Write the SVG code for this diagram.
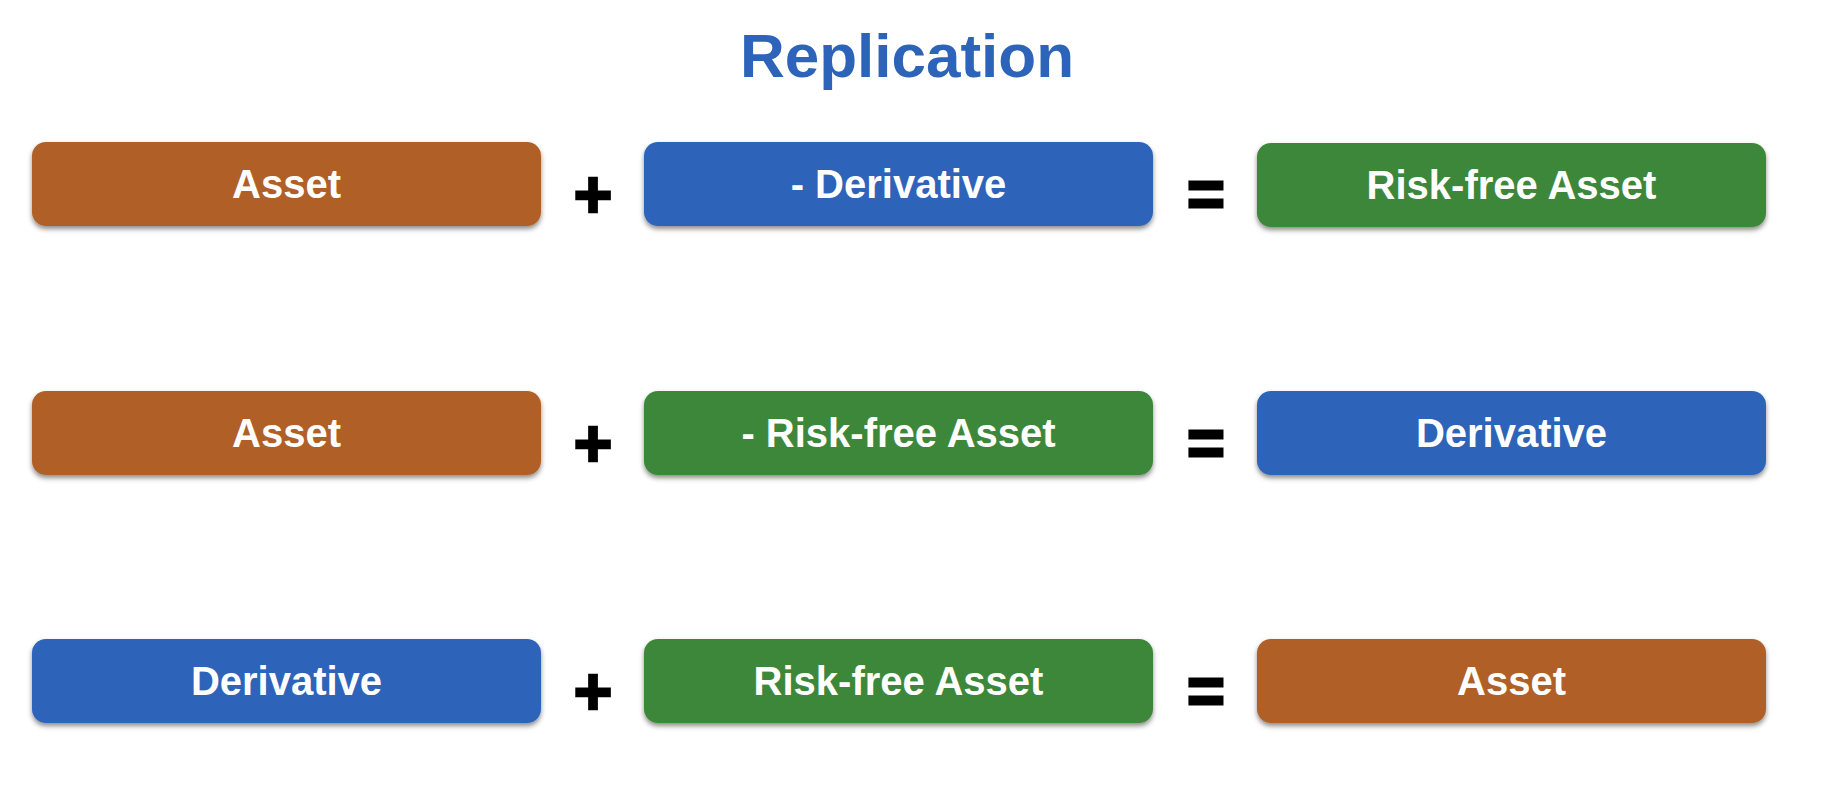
<svg xmlns="http://www.w3.org/2000/svg" width="1836" height="804" viewBox="0 0 1836 804">
<defs>
<filter id="sh" x="-5%" y="-20%" width="110%" height="150%">
<feDropShadow dx="0" dy="3" stdDeviation="2.5" flood-color="#000" flood-opacity="0.45"/>
</filter>
</defs>
<style>
.box{filter:url(#sh)}
.orange{fill:#B06027}
.blue{fill:#2D64BA}
.green{fill:#3D873A}
.lbl{font-family:"Liberation Sans",Arial,sans-serif;font-weight:bold;font-size:40px;fill:#fff;text-anchor:middle}
.plus{font-family:"Liberation Sans",Arial,sans-serif;font-weight:bold;font-size:66px;fill:#000;stroke:#000;stroke-width:2.5;text-anchor:middle}
.eq{font-family:"Liberation Sans",Arial,sans-serif;font-weight:bold;font-size:64px;fill:#000;stroke:#000;stroke-width:3;text-anchor:middle}
.title{font-family:"Liberation Sans",Arial,sans-serif;font-weight:bold;font-size:62px;fill:#2D64BA;text-anchor:middle}
</style>
<rect width="1836" height="804" fill="#fff"/>
<text class="title" x="907" y="77">Replication</text>
<g id="r1a"><rect class="box orange" x="32" y="142" width="509" height="84" rx="14"/><text class="lbl" x="286.5" y="198">Asset</text></g>
<g id="r1b"><rect class="box blue" x="644" y="142" width="509" height="84" rx="14"/><text class="lbl" x="898.5" y="198">- Derivative</text></g>
<g id="r1c"><rect class="box green" x="1257" y="143" width="509" height="84" rx="14"/><text class="lbl" x="1511.5" y="199">Risk-free Asset</text></g>
<g id="r2a"><rect class="box orange" x="32" y="391" width="509" height="84" rx="14"/><text class="lbl" x="286.5" y="447">Asset</text></g>
<g id="r2b"><rect class="box green" x="644" y="391" width="509" height="84" rx="14"/><text class="lbl" x="898.5" y="447">- Risk-free Asset</text></g>
<g id="r2c"><rect class="box blue" x="1257" y="391" width="509" height="84" rx="14"/><text class="lbl" x="1511.5" y="447">Derivative</text></g>
<g id="r3a"><rect class="box blue" x="32" y="639" width="509" height="84" rx="14"/><text class="lbl" x="286.5" y="695">Derivative</text></g>
<g id="r3b"><rect class="box green" x="644" y="639" width="509" height="84" rx="14"/><text class="lbl" x="898.5" y="695">Risk-free Asset</text></g>
<g id="r3c"><rect class="box orange" x="1257" y="639" width="509" height="84" rx="14"/><text class="lbl" x="1511.5" y="695">Asset</text></g>
<g id="connectors">
<text class="plus" x="593" y="217">+</text>
<text class="eq" x="1206" y="216">=</text>
<text class="plus" x="593" y="466">+</text>
<text class="eq" x="1206" y="465">=</text>
<text class="plus" x="593" y="714">+</text>
<text class="eq" x="1206" y="713">=</text>
</g>
</svg>
